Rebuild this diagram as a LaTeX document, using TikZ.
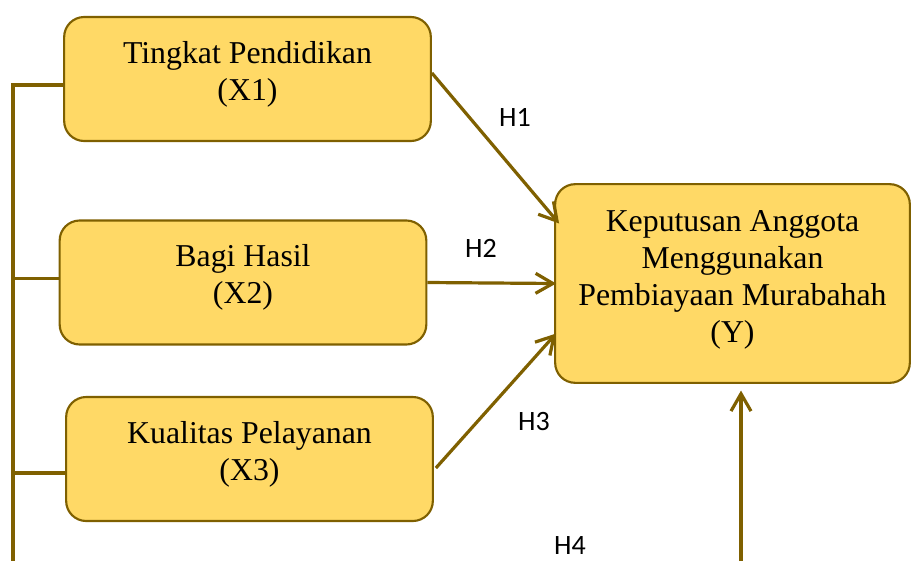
\documentclass[tikz,border=0pt]{standalone}
\usepackage{fontspec}
\setmainfont{Liberation Serif}
\newfontfamily\hfont{Carlito}
\usetikzlibrary{arrows.meta, calc}
\definecolor{boxfill}{HTML}{FFD966}
\definecolor{boxline}{HTML}{7F6000}

\begin{document}
\begin{tikzpicture}[x=0.75pt, y=-0.75pt,
  var/.style={draw=boxline, line width=1.6pt, fill=boxfill, rounded corners=15pt,
              inner sep=0pt, align=center, font=\fontsize{23.85}{27.75}\selectfont},
  xvar/.style={var, minimum width=275pt, minimum height=93pt, text depth=12.5pt},
  link/.style={draw=boxline, line width=2.4pt},
  arr/.style={link, -{Straight Barb[length=13pt, width=15pt]}},
  hyp/.style={font=\hfont\fontsize{21}{25}\selectfont}
]
  \useasboundingbox (0,0) rectangle (911,561);

  % Independent variables
  \node[xvar] (x1) at (247.5,79) {Tingkat Pendidikan\\(X1)};
  \node[xvar] (x2) at (243,282.5) {Bagi Hasil\\(X2)};
  \node[xvar] (x3) at (249.5,459) {Kualitas Pelayanan\\(X3)};

  % Dependent variable
  \node[var, minimum width=266pt, minimum height=149pt, text depth=10pt] (yv) at (732.5,283.5)
    {Keputusan Anggota\\Menggunakan\\Pembiayaan Murabahah\\(Y)};

  % Simultaneous bracket
  \coordinate (busend) at (13,561);
  \coordinate (t2) at ($(x2.west)+(0,-4)$);
  \coordinate (t3) at ($(x3.west)+(0,14)$);
  \draw[link] ($(x1.west)+(0,6)$) -| (busend);
  \draw[link] (t2) -- (t2 -| busend);
  \draw[link] (t3) -- (t3 -| busend);

  % Hypotheses
  \draw[arr] ($(x1.east)+(0,-6)$) -- ($(yv.west)+(5,-60)$);
  \draw[arr] (x2.east) -- ($(yv.west)+(2,0)$);
  \draw[arr] ($(x3.east)+(2,9)$) -- ($(yv.west)+(2,50)$);
  \coordinate (h4src) at (741,561);
  \draw[arr, shorten >=5pt] (h4src) -- (h4src |- yv.south);

  \node[hyp] (h1) at (515,117) {H1};
  \node[hyp] (h2) at (481,248) {H2};
  \node[hyp] (h3) at (534,422) {H3};
  \node[hyp] (h4) at (570,546) {H4};
\end{tikzpicture}
\end{document}
